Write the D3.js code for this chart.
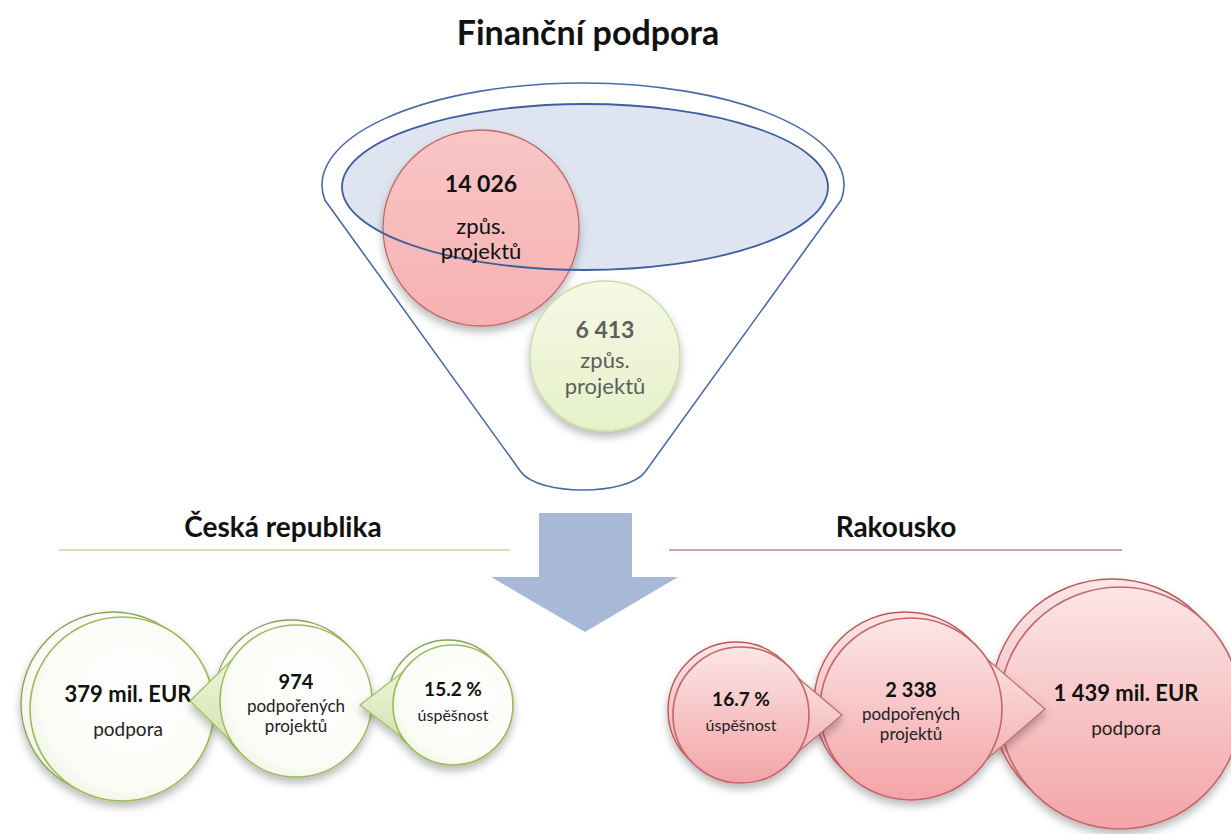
<!DOCTYPE html>
<meta charset="utf-8">
<style>
body { margin: 0; background: #fff; }
text { font-family: Lato, "Open Sans", sans-serif; }
</style>
<svg width="1231" height="834"></svg>
<script src="https://d3js.org/d3.v7.min.js"></script>
<script>
// ---- data ----
var title = "Finanční podpora";
var funnelValues = ["14 026", "6 413"];
var funnelLabels = [["způs.", "projektů"], ["způs.", "projektů"]];
var countries = ["Česká republika", "Rakousko"];
var czValues = ["379 mil. EUR", "974", "15.2 %"];
var czLabels = [["podpora"], ["podpořených", "projektů"], ["úspěšnost"]];
var czKinds = ["money", "projects", "rate"];
var atValues = ["16.7 %", "2 338", "1 439 mil. EUR"];
var atLabels = [["úspěšnost"], ["podpořených", "projektů"], ["podpora"]];
var atKinds = ["rate", "projects", "money"];

// ---- layout (not data) ----
var czLayout = [
    {cx: 122, cy: 709, r: 92, tip: null, off: [-9, -5]},
    {cx: 296, cy: 701, r: 76, tip: 190, off: [-5, -5]},
    {cx: 453, cy: 705, r: 60, tip: 360, off: [-5, -5]}
];
var atLayout = [
    {cx: 741, cy: 715, r: 68, tip: 842, off: [-5, -5]},
    {cx: 911, cy: 709, r: 91, tip: 1045, off: [-6, -6]},
    {cx: 1120, cy: 708, r: 121, tip: null, off: [-8, -8]}
];
var textStyle = {
    money:    {vSize: 22, lSize: 19, vDy: -7, lDy: [27]},
    projects: {vSize: 20, lSize: 17, vDy: -12, lDy: [11, 31]},
    rate:     {vSize: 19, lSize: 16, vDy: -9, lDy: [16]}
};

var svg = d3.select("svg");
var defs = svg.append("defs");

function linGrad(id, c1, c2) {
    var g = defs.append("linearGradient").attr("id", id)
        .attr("x1", 0).attr("y1", 0).attr("x2", 0).attr("y2", 1);
    g.append("stop").attr("offset", "0%").attr("stop-color", c1);
    g.append("stop").attr("offset", "100%").attr("stop-color", c2);
}
linGrad("redFill", "#fce6e6", "#f3a4a7");
linGrad("redPtr", "#fbe0e0", "#f4b3b5");
linGrad("funnelRed", "#f9c6c6", "#f6b1b1");
linGrad("funnelGreen", "#f5f9e6", "#e6f0c8");
linGrad("greenPtr", "#eef5dc", "#d3e3b0");
var rg = defs.append("radialGradient").attr("id", "greenFill")
    .attr("cx", "55%").attr("cy", "45%").attr("r", "60%");
rg.append("stop").attr("offset", "0%").attr("stop-color", "#ffffff");
rg.append("stop").attr("offset", "80%").attr("stop-color", "#fbfcf7");
rg.append("stop").attr("offset", "100%").attr("stop-color", "#eef3e1");

var sh = defs.append("filter").attr("id", "shadow")
    .attr("x", "-20%").attr("y", "-20%").attr("width", "140%").attr("height", "150%");
sh.append("feDropShadow").attr("dx", 0).attr("dy", 5).attr("stdDeviation", 4)
    .attr("flood-color", "#000").attr("flood-opacity", 0.28);

// title
svg.append("text").attr("x", 588).attr("y", 45)
    .attr("text-anchor", "middle").attr("font-size", 34).attr("font-weight", "bold")
    .attr("fill", "#111").text(title);

// ---- funnel ----
var outer = {cx: 583, cy: 185, rx: 261, ry: 102};
var inner = {cx: 585, cy: 187, rx: 243, ry: 83};
var sideY = outer.cy + 15;
var sideDx = outer.rx * Math.sqrt(1 - Math.pow(15 / outer.ry, 2));
var funnelD = "M" + (outer.cx - sideDx) + "," + sideY +
    " A" + outer.rx + "," + outer.ry + " 0 1 1 " + (outer.cx + sideDx) + "," + sideY +
    " L645,472 C627,496 539,496 521,472 Z";
svg.append("path").attr("d", funnelD)
    .attr("fill", "#fff").attr("stroke", "#4a6aab").attr("stroke-width", 1.6);

svg.append("ellipse").attr("cx", inner.cx).attr("cy", inner.cy)
    .attr("rx", inner.rx).attr("ry", inner.ry)
    .attr("fill", "#dfe5f0");

var funnelCircles = [
    {cx: 481, cy: 228, r: 98, fill: "url(#funnelRed)", stroke: "#c0676a", color: "#111",
     vDy: -36, lDy: [6, 31]},
    {cx: 605, cy: 356, r: 75, fill: "url(#funnelGreen)", stroke: "#c8dba0", color: "#5e5e5e",
     vDy: -18, lDy: [12, 38]}
];
funnelCircles.forEach(function(c) {
    svg.append("circle").attr("cx", c.cx).attr("cy", c.cy).attr("r", c.r)
        .attr("fill", c.fill).attr("stroke", c.stroke).attr("stroke-width", 1.3)
        .attr("filter", "url(#shadow)");
});
// ellipse outline on top of red circle
svg.append("ellipse").attr("cx", inner.cx).attr("cy", inner.cy)
    .attr("rx", inner.rx).attr("ry", inner.ry)
    .attr("fill", "none").attr("stroke", "#3e5f9f").attr("stroke-width", 1.8);

funnelCircles.forEach(function(c, i) {
    svg.append("text").attr("x", c.cx).attr("y", c.cy + c.vDy)
        .attr("text-anchor", "middle").attr("font-size", 23).attr("font-weight", "bold")
        .attr("fill", c.color).text(funnelValues[i]);
    funnelLabels[i].forEach(function(l, j) {
        svg.append("text").attr("x", c.cx).attr("y", c.cy + c.lDy[j])
            .attr("text-anchor", "middle").attr("font-size", 22)
            .attr("fill", c.color).text(l);
    });
});

// ---- arrow ----
svg.append("path")
    .attr("d", "M539,513 L632,513 L632,577 L678,577 L585,632 L491,577 L539,577 Z")
    .attr("fill", "#a8b9d8");

// ---- country headings ----
var heads = [
    {x: 283, line: [59, 510], color: "#a9c26f"},
    {x: 896, line: [669, 1122], color: "#8c4f50"}
];
heads.forEach(function(h, i) {
    svg.append("text").attr("x", h.x).attr("y", 537)
        .attr("text-anchor", "middle").attr("font-size", 28).attr("font-weight", "bold")
        .attr("fill", "#111").text(countries[i]);
    svg.append("line").attr("x1", h.line[0]).attr("x2", h.line[1])
        .attr("y1", 550).attr("y2", 550)
        .attr("stroke", h.color).attr("stroke-width", 1);
});

// ---- bubbles ----
function drawBubbles(layout, values, labels, kinds, tone) {
    var order = d3.range(layout.length);
    if (tone === "red") order.reverse();
    var fill = tone === "red" ? "url(#redFill)" : "url(#greenFill)";
    var ptrFill = tone === "red" ? "url(#redPtr)" : "url(#greenPtr)";
    var stroke = tone === "red" ? "#c0676a" : "#9bbb59";
    var backStroke = tone === "red" ? "#b8585c" : "#8aa35a";
    order.forEach(function(i) {
        var d = layout[i];
        var g = svg.append("g").attr("filter", "url(#shadow)");
        g.append("circle").attr("cx", d.cx + d.off[0]).attr("cy", d.cy + d.off[1]).attr("r", d.r)
            .attr("fill", fill).attr("stroke", backStroke).attr("stroke-width", 1.4);
        if (d.tip !== null) {
            var dir = d.tip < d.cx ? Math.PI : 0;
            var a = 0.58;
            var b1 = [d.cx + d.r * Math.cos(dir - a), d.cy + d.r * Math.sin(dir - a)];
            var b2 = [d.cx + d.r * Math.cos(dir + a), d.cy + d.r * Math.sin(dir + a)];
            g.append("path")
                .attr("d", "M" + b1 + " L" + d.tip + "," + d.cy + " L" + b2 + " Z")
                .attr("fill", ptrFill).attr("stroke", stroke).attr("stroke-width", 1.2);
        }
        g.append("circle").attr("cx", d.cx).attr("cy", d.cy).attr("r", d.r)
            .attr("fill", fill).attr("stroke", stroke).attr("stroke-width", 1.6);
        var st = textStyle[kinds[i]];
        var tx = d.cx + (kinds[i] === "money" ? 6 : 0);
        svg.append("text").attr("x", tx).attr("y", d.cy + st.vDy)
            .attr("text-anchor", "middle").attr("font-size", st.vSize).attr("font-weight", "bold")
            .attr("fill", "#111").text(values[i]);
        labels[i].forEach(function(l, j) {
            svg.append("text").attr("x", tx).attr("y", d.cy + st.lDy[j])
                .attr("text-anchor", "middle").attr("font-size", st.lSize)
                .attr("fill", "#222").text(l);
        });
    });
}
drawBubbles(czLayout, czValues, czLabels, czKinds, "green");
drawBubbles(atLayout, atValues, atLabels, atKinds, "red");
</script>
